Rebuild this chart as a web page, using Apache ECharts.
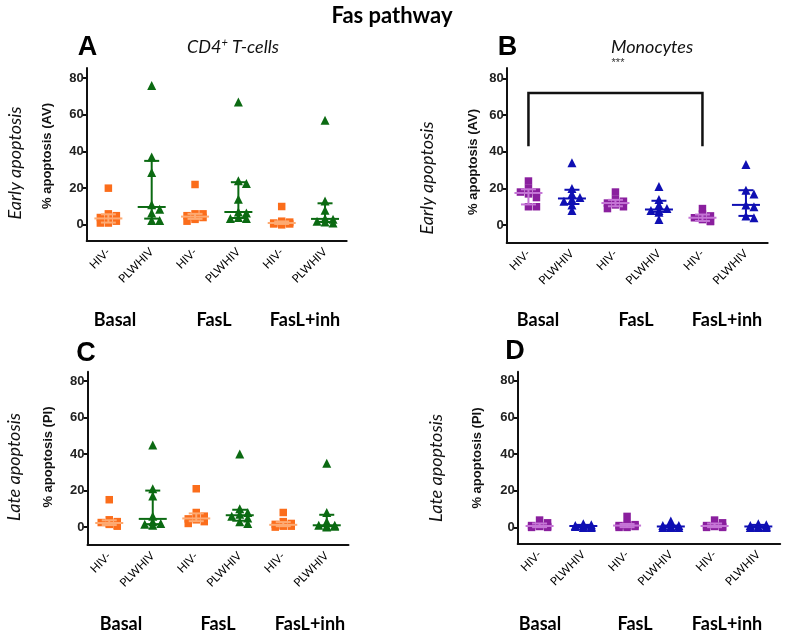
<!DOCTYPE html>
<html><head><meta charset="utf-8">
<script src="https://cdn.jsdelivr.net/npm/echarts@6.0.0/dist/echarts.min.js"></script>
<style>html,body{margin:0;padding:0;background:#fff}#c{width:785px;height:639px}</style>
</head><body><div id="c"></div>
<script>
// ---------- data ----------
const categories = ['HIV-', 'PLWHIV', 'HIV-', 'PLWHIV', 'HIV-', 'PLWHIV'];
const treatments = ['Basal', 'FasL', 'FasL+inh'];
const yTicks = [0, 20, 40, 60, 80];

// Panel A: CD4+ T-cells, early apoptosis (AV)
const cd4Early = [
  [20, 6, 5, 4, 3, 2, 1, 1],
  [76, 37, 28.5, 11, 8.5, 6.4, 2.4, 2.4],
  [22, 6, 6, 5, 4, 4, 3, 2],
  [67, 24, 22.5, 14, 7, 6.5, 4, 3.5, 3.5],
  [10, 2, 1.5, 1, 1, 0.5, 0.5, 0],
  [57, 13, 8, 3.5, 3, 2, 1.5, 1]
];
// Panel B: Monocytes, early apoptosis (AV)
const monoEarly = [
  [24, 20, 18, 18, 17, 15, 10, 10],
  [34, 20, 17, 15, 14, 13, 11, 8],
  [18, 14, 13, 12, 12, 11, 10, 9],
  [21, 14, 11, 9, 8, 8, 7, 3],
  [9, 6, 5, 4, 4, 3, 2, 2],
  [33, 19, 17, 11, 10, 5, 4]
];
// Panel C: CD4+ T-cells, late apoptosis (PI)
const cd4Late = [
  [15, 4, 3, 2.5, 2, 1.5, 1, 0.5],
  [45, 21, 17, 6, 3, 2, 1.5, 1],
  [21, 8, 6, 5, 4.5, 4, 3, 2],
  [40, 10, 8, 7, 6, 5, 3, 2],
  [8, 3, 2, 1.5, 1, 0.5, 0.5, 0],
  [35, 8, 3, 1, 1, 0.5, 0.5, 0]
];
// Panel D: Monocytes, late apoptosis (PI)
const monoLate = [
  [4, 2.5, 1, 1, 0.5, 0.5, 0, 0],
  [2, 1.5, 1, 1, 0.5, 0.5, 0, 0],
  [6, 2, 1.5, 1, 1, 0.5, 0, 0],
  [3.5, 1, 1, 0.5, 0.5, 0, 0, 0],
  [4, 2.5, 1, 1, 0.5, 0.5, 0, 0],
  [2, 1.5, 1, 0.5, 0.5, 0, 0, 0]
];
// significance bracket (panel B): from group, to group, bar level, leg end
const sigBracket = [[0, 4, 72, 43]];
const sigLabel = '***';

// ---------- styles ----------
const ORANGE = '#fb6d1b', ORANGE_BAR = '#fdaa72';
const GREEN = '#0b6a12';
const PURPLE = '#8a1f9e', PURPLE_BAR = '#c575d6';
const BLUE = '#0f0fb3';
const SANS = 'Lato';
const ARIAL = 'Liberation Sans';

const panels = [
  { data: cd4Early, grid: {left: 86.7, top: 68, width: 260, height: 173}, min: -8.8, max: 85.5,
    cols: [ORANGE, GREEN], bars: [ORANGE_BAR, GREEN] },
  { data: monoEarly, grid: {left: 506.7, top: 68, width: 261, height: 174.7}, min: -9.6, max: 85.6,
    cols: [PURPLE, BLUE], bars: [PURPLE_BAR, BLUE] },
  { data: cd4Late, grid: {left: 87.5, top: 371.7, width: 261, height: 173.3}, min: -9.8, max: 85.1,
    cols: [ORANGE, GREEN], bars: [ORANGE_BAR, GREEN] },
  { data: monoLate, grid: {left: 517.7, top: 371.7, width: 262.5, height: 172}, min: -8.9, max: 85.0,
    cols: [PURPLE, BLUE], bars: [PURPLE_BAR, BLUE] }
];

// Prism-style quantile ((n+1)p)
function quant(s, p) {
  const n = s.length; const pos = (n + 1) * p;
  if (pos <= 1) return s[0]; if (pos >= n) return s[n - 1];
  const lo = Math.floor(pos), f = pos - lo;
  return s[lo - 1] + f * (s[lo] - s[lo - 1]);
}
// compact beeswarm in pixel space (limited width) -> offsets in category units
function swarm(vals, pxPerUnit, bandPx, sym) {
  const placed = [];
  const sorted = vals.slice().sort((a, b) => b - a);
  const out = [];
  const step = 4, maxHalf = 12;
  const cands = [0];
  for (let d = step; d <= maxHalf; d += step) { cands.push(d, -d); }
  sorted.forEach(v => {
    const py = v * pxPerUnit;
    let best = 0, bestC = Infinity;
    for (const c of cands) {
      const n = placed.filter(p => Math.abs(p.x - c) < sym * 0.85 && Math.abs(p.y - py) < sym * 0.55).length;
      if (n < bestC) { bestC = n; best = c; }
      if (n === 0) break;
    }
    placed.push({x: best, y: py});
    out.push([best / bandPx, v]);
  });
  return out;
}

const grids = [], xAxes = [], yAxes = [], series = [];
panels.forEach((P, pi) => {
  grids.push(Object.assign({}, P.grid));
  const pxPerUnit = P.grid.height / (P.max - P.min);
  const bandPx = P.grid.width / categories.length;
  // visible category axis
  xAxes.push({
    type: 'category', gridIndex: pi, data: categories, boundaryGap: true,
    axisLine: {onZero: false, lineStyle: {color: '#111', width: 2}},
    axisTick: {alignWithLabel: true, length: 5, lineStyle: {color: '#111', width: 2}},
    axisLabel: {rotate: 45, margin: 9, fontSize: 11.5, color: '#000', fontFamily: SANS, interval: 0},
    splitLine: {show: false}
  });
  // hidden value axis for jittered points
  xAxes.push({type: 'value', gridIndex: pi, min: -0.5, max: 5.5, show: false,
    axisLine: {onZero: false}, splitLine: {show: false}});
  yAxes.push({
    type: 'value', gridIndex: pi, min: P.min, max: P.max,
    axisLine: {show: true, onZero: false, lineStyle: {color: '#111', width: 2}},
    axisTick: {show: true, length: 4, customValues: yTicks, lineStyle: {color: '#111', width: 2}},
    axisLabel: {customValues: yTicks, fontSize: 13, fontWeight: 'bold', color: '#222', fontFamily: ARIAL, margin: 3},
    splitLine: {show: false}
  });
  const xIdx = pi * 2 + 1;
  P.data.forEach((vals, gi) => {
    const hivNeg = gi % 2 === 0;
    const col = hivNeg ? P.cols[0] : P.cols[1];
    const barCol = hivNeg ? P.bars[0] : P.bars[1];
    const sym = hivNeg ? 7.5 : 9;
    const pts = swarm(vals, pxPerUnit, bandPx, sym).map(d => [gi + d[0], d[1]]);
    series.push({
      type: 'scatter', xAxisIndex: xIdx, yAxisIndex: pi, data: pts,
      symbol: hivNeg ? 'rect' : 'triangle', symbolSize: sym,
      itemStyle: {color: col, opacity: 1}, z: 2, silent: true
    });
    const s = vals.slice().sort((a, b) => a - b);
    series.push({
      type: 'custom', xAxisIndex: xIdx, yAxisIndex: pi, z: 3, silent: true,
      data: [[gi, quant(s, 0.25), quant(s, 0.5), quant(s, 0.75)]],
      renderItem: (params, api) => {
        const x = api.value(0);
        const a = api.coord([x, api.value(1)]), m = api.coord([x, api.value(2)]), b = api.coord([x, api.value(3)]);
        const st = {stroke: barCol, lineWidth: 2};
        const line = (x1, y1, x2, y2) => ({type: 'line', shape: {x1, y1, x2, y2}, style: st});
        return {type: 'group', children: [
          line(a[0], a[1], b[0], b[1]),
          line(a[0] - 7.5, a[1], a[0] + 7.5, a[1]),
          line(b[0] - 7.5, b[1], b[0] + 7.5, b[1]),
          line(m[0] - 14, m[1], m[0] + 14, m[1])
        ]};
      }
    });
  });
  if (pi === 1) {
    series.push({
      type: 'custom', xAxisIndex: xIdx, yAxisIndex: pi, z: 4, silent: true, data: sigBracket,
      renderItem: (params, api) => {
        const p1 = api.coord([api.value(0), api.value(3)]), p2 = api.coord([api.value(0), api.value(2)]);
        const p3 = api.coord([api.value(1), api.value(2)]), p4 = api.coord([api.value(1), api.value(3)]);
        return {type: 'polyline', shape: {points: [p1, p2, p3, p4]}, style: {stroke: '#111', lineWidth: 2.5, fill: null}};
      }
    });
  }
});

// ---------- texts ----------
function txt(x, y, text, o) {
  return Object.assign({type: 'text', x, y, style: Object.assign({text, align: 'center', verticalAlign: 'middle', fill: '#111'}, o.style || {}),
    rotation: o.rotation || 0});
}
const G = [];
G.push(txt(392, 16, 'Fas pathway', {style: {font: 'bold 22px Lato', fill: '#000'}}));
[['A', 87.5, 47.5], ['B', 507.5, 47.5], ['C', 86, 354], ['D', 515, 352]].forEach(d =>
  G.push(txt(d[1], d[2], d[0], {style: {font: 'bold 27px "Liberation Sans"', fill: '#000'}})));
G.push({type: 'text', x: 233, y: 47, style: {
  text: '{a|CD4}{s|+}{a| T-cells}', align: 'center', verticalAlign: 'middle',
  rich: {a: {fontFamily: SANS, fontStyle: 'italic', fontSize: 18, fill: '#111'},
         s: {fontFamily: SANS, fontStyle: 'italic', fontSize: 11, fill: '#111', padding: [0, 0, 9, 0]}}}});
G.push(txt(652, 47, 'Monocytes', {style: {font: 'italic 18px Lato'}}));
G.push(txt(618, 63, sigLabel, {style: {font: '11px "Liberation Sans"', fill: '#333'}}));
const R = Math.PI / 2;
[['Early apoptosis', 15, 163], ['Early apoptosis', 427, 178], ['Late apoptosis', 14, 467], ['Late apoptosis', 436, 468]]
  .forEach(d => G.push(txt(d[1], d[2], d[0], {rotation: R, style: {font: 'italic 18px Lato'}})));
[['% apoptosis (AV)', 47, 156], ['% apoptosis (AV)', 473, 162], ['% apoptosis (PI)', 48, 457], ['% apoptosis (PI)', 477, 458]]
  .forEach(d => G.push(txt(d[1], d[2], d[0], {rotation: R, style: {font: 'bold 13px "Liberation Sans"'}})));
const groupLabelPos = [
  [[115, 320], [214, 320], [305, 320]],
  [[538, 320], [636, 320], [727, 320]],
  [[121, 624], [218, 624], [310, 624]],
  [[540, 624], [635, 624], [727, 624]]
];
groupLabelPos.forEach(row => row.forEach((p, i) =>
  G.push(txt(p[0], p[1], treatments[i], {style: {font: 'bold 18px Lato', fill: '#000'}}))));

const chart = echarts.init(document.getElementById('c'), null, {renderer: 'canvas'});
chart.setOption({
  animation: false, backgroundColor: '#fff',
  grid: grids, xAxis: xAxes, yAxis: yAxes, series, graphic: G
});
</script></body></html>
